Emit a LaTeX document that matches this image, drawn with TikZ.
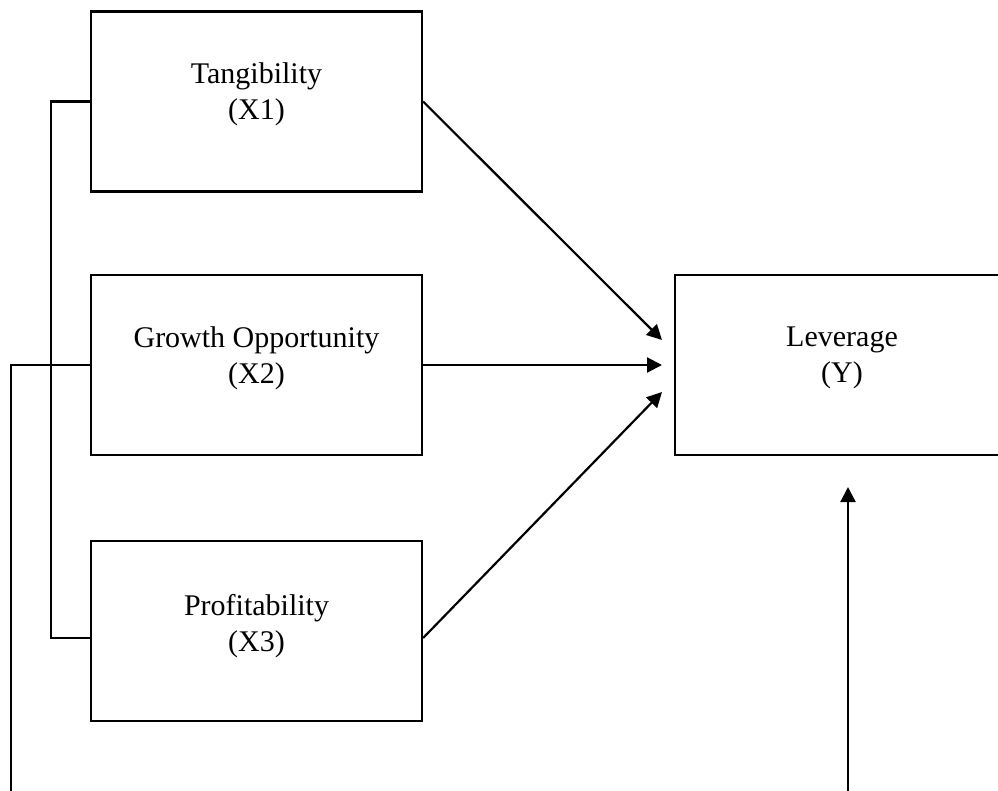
\documentclass[tikz,border=0pt]{standalone}
\usepackage{fontspec}
\setmainfont{Liberation Serif}
\usetikzlibrary{arrows.meta}
\begin{document}
\begin{tikzpicture}[x=1pt,y=-1pt,
  box/.style={draw,line width=2.2pt,rectangle,inner sep=0pt,minimum width=331pt,minimum height=180pt},
  lbl/.style={align=center,font=\fontsize{30}{36}\selectfont,inner sep=0pt},
  conn/.style={line width=2.2pt},
  arr/.style={line width=2.2pt,-{Triangle[length=15pt,width=15pt]}}]
\useasboundingbox (0,0) rectangle (998,790);
\clip (0,0) rectangle (998,790);
\node[box] (t) at (256.5,101.5) {};
\node[box] (g) at (256.5,365) {};
\node[box] (p) at (256.5,631) {};
\node[box,minimum width=340pt] (y) at (845,365) {};
\node[lbl] (tl) at ([yshift=7pt]t.center) {Tangibility\\(X1)};
\node[lbl] (gl) at ([yshift=7pt]g.center) {Growth Opportunity\\(X2)};
\node[lbl] (pl) at ([yshift=5pt]p.center) {Profitability\\(X3)};
\node[lbl] (yl) at ([xshift=-3pt,yshift=7pt]y.center) {Leverage\\(Y)};
\coordinate (pe) at ([yshift=-7pt]p.east);
\coordinate (pw) at ([yshift=-7pt]p.west);
\coordinate (a1) at (662,340);
\coordinate (a2) at (662,365);
\coordinate (a3) at (662,392);
\coordinate (lb) at (11,795);
\coordinate (ub) at (848,795);
\coordinate (ut) at (848,487);
\draw[conn] (t.west) -- (51,101.5) |- (pw);
\draw[conn] (g.west) -| (lb);
\draw[arr] (t.east) -- (a1);
\draw[arr] (g.east) -- (a2);
\draw[arr] (pe) -- (a3);
\draw[arr] (ub) -- (ut);
\end{tikzpicture}
\end{document}
